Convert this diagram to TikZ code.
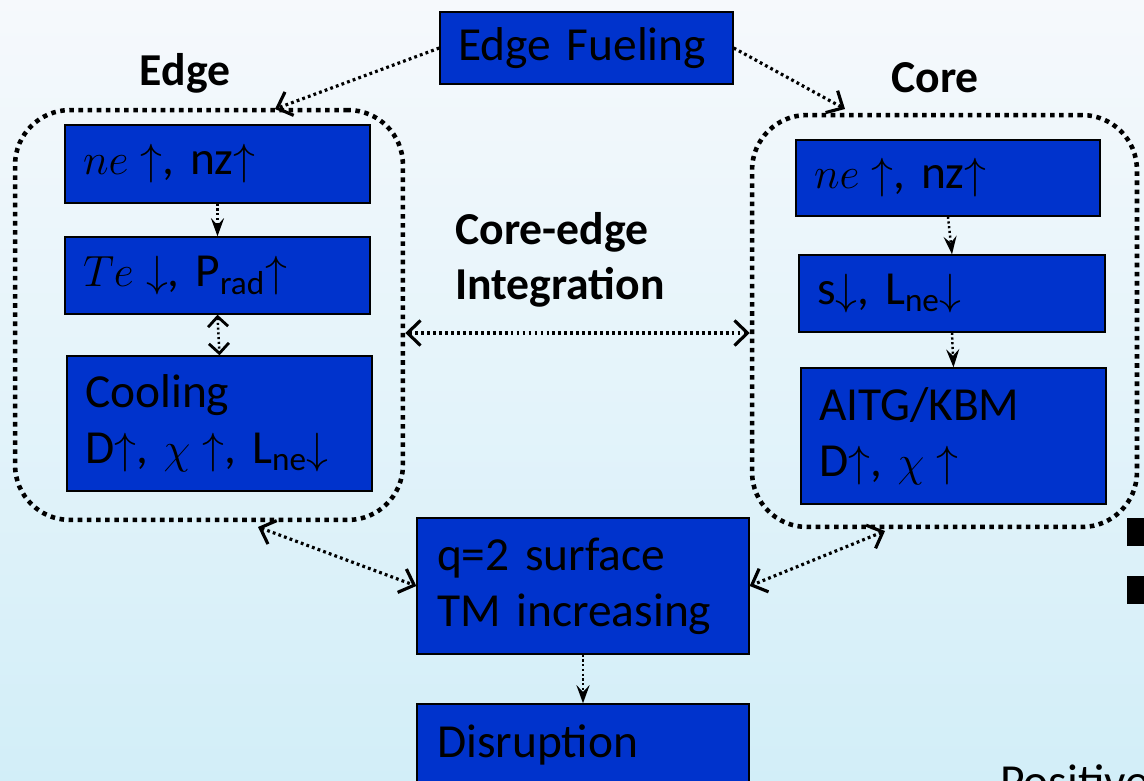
\documentclass[tikz,border=0pt]{standalone}
\usepackage{fontspec}
\setmainfont{Carlito}
\usepackage{amsmath}
\usepackage{amssymb}
\usetikzlibrary{shapes,arrows.meta}

\definecolor{boxblue}{RGB}{0,51,204}
\definecolor{bgtop}{RGB}{246,249,252}
\definecolor{bgbot}{RGB}{210,238,248}

\begin{document}
\begin{tikzpicture}[x=0.02cm,y=-0.02cm,
  blk/.style={draw=black, line width=0.8pt, fill=boxblue, text=black, align=left,
    inner xsep=0.36cm, inner ysep=0pt, font=\fontsize{27}{32}\selectfont},
  grp/.style={draw=black, line width=2.6pt, dash pattern=on 2.6pt off 2.6pt,
    rounded corners=1.1cm, inner sep=0pt},
  lbl/.style={font=\fontsize{26}{31}\selectfont\bfseries, inner sep=0pt},
  lnk/.style={line width=1.8pt, dash pattern=on 1.6pt off 1.8pt},
  sml/.style={line width=1.4pt, dash pattern=on 1.2pt off 1.5pt},
  barb/.tip={Straight Barb[length=0.26cm,width=0.5cm,line width=1.8pt]},
  sbarb/.tip={Straight Barb[length=0.2cm,width=0.4cm,line width=1.6pt]},
  stl/.tip={Stealth[length=0.36cm,width=0.26cm,inset=0.13cm]}]

\useasboundingbox (0,0) rectangle (1144,781);
\clip (0,0) rectangle (1144,781);
\fill[top color=bgtop, bottom color=bgbot] (0,0) rectangle (1144,781);

% groups
\node[grp, minimum width=7.76cm, minimum height=8.2cm] (edgegrp) at (209,315) {};
\node[grp, minimum width=7.7cm, minimum height=8.24cm] (coregrp) at (944.5,321) {};

\node[lbl] (edgelbl) at (185,73) {Edge};
\node[lbl] (corelbl) at (935,78) {Core};
\node[lbl, anchor=west, align=left] (integ) at (455,260) {Core-edge\\Integration};

% boxes
\node[blk, text width=5.14cm, minimum height=1.44cm] (fuel) at (586.5,48) {Edge Fueling};

\node[blk, text width=5.38cm, minimum height=1.56cm] (ene) at (217.5,164) {$ne\uparrow$, nz$\uparrow$};
\node[blk, text width=5.38cm, minimum height=1.54cm] (ete) at (217.5,275.5) {$Te\downarrow$, P\textsubscript{rad}$\uparrow$};
\node[blk, text width=5.38cm, minimum height=2.7cm] (ecool) at (219.5,423.5) {Cooling\\D$\uparrow$, $\chi\uparrow$, L\textsubscript{ne}$\downarrow$};

\node[blk, text width=5.36cm, minimum height=1.52cm] (cne) at (948,178) {$ne\uparrow$, nz$\uparrow$};
\node[blk, text width=5.4cm, minimum height=1.54cm] (cs) at (952,293.5) {s$\downarrow$, L\textsubscript{ne}$\downarrow$};
\node[blk, text width=5.38cm, minimum height=2.72cm] (caitg) at (953.5,436) {AITG/KBM\\D$\uparrow$, $\chi\uparrow$};

\node[blk, text width=5.84cm, inner xsep=0.4cm, minimum height=2.72cm] (q2) at (583,586) {q=2 surface\\TM increasing};
\node[blk, text width=5.84cm, inner xsep=0.4cm, minimum height=1.64cm] (disr) at (583,745) {Disruption};

% free ends on the groups
\coordinate (edgein) at (275,109);
\coordinate (corein) at (845,109);
\coordinate (mid) at (576,333);
\coordinate (edgeout) at (258,527);
\coordinate (coreout) at (885,531);

\draw[lnk, -barb] (fuel.west) -- (edgein);
\draw[lnk, -barb] (fuel.east) -- (corein);
\draw[lnk, barb-barb] (edgegrp.east |- mid) -- (coregrp.west |- mid);
\draw[lnk, barb-barb] (edgeout) -- (q2.west);
\draw[lnk, barb-barb] (coreout) -- (q2.east);

\draw[sml, -stl] (ene.south) -- (ete.north);
\draw[sml, sbarb-sbarb] (ete.south) -- (ecool.north);
\draw[sml, -stl] (cne.south) -- (cs.north);
\draw[sml, -stl] (cs.south) -- (caitg.north);
\draw[sml, -stl] (q2.south) -- (disr.north);

% slide bits at the edge
\fill[black] (1127,518) rectangle (1144,546);
\fill[black] (1127,576) rectangle (1144,604);
\node[anchor=base west, inner sep=0pt, font=\fontsize{27}{32}\selectfont] (pos) at (1000,797) {Positive};

\end{tikzpicture}
\end{document}
